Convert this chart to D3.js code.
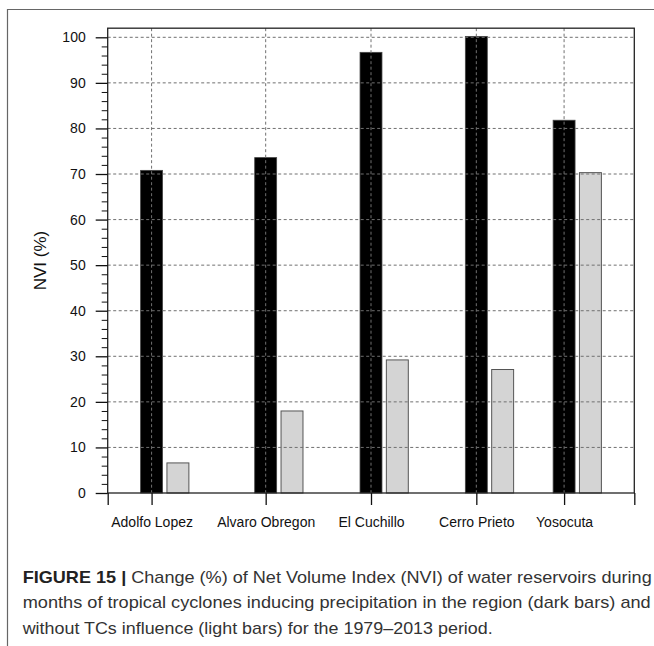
<!DOCTYPE html>
<html>
<head>
<meta charset="utf-8">
<script src="https://cdn.jsdelivr.net/npm/d3@7"></script>
<style>
  body { margin: 0; background: #fff; }
  svg { display: block; font-family: "Liberation Sans", Arial, Helvetica, sans-serif; }
</style>
</head>
<body>
<script>
// reservoirs and their x value on the original plot axis (0..6)
const reservoirs = ["Adolfo Lopez", "Alvaro Obregon", "El Cuchillo", "Cerro Prieto", "Yosocuta"];
const xValues = [0.5, 1.8, 3.0, 4.2, 5.2];
// NVI change (%) with TCs (dark) and without TCs (light)
const withTC = [70.8, 73.6, 96.7, 100.2, 81.8];
const withoutTC = [6.6, 18.0, 29.2, 27.1, 70.3];
const yTicks = [0, 10, 20, 30, 40, 50, 60, 70, 80, 90, 100];
const captionLines = [
  ["FIGURE 15 |", " Change (%) of Net Volume Index (NVI) of water reservoirs during"],
  ["", "months of tropical cyclones inducing precipitation in the region (dark bars) and"],
  ["", "without TCs influence (light bars) for the 1979\u20132013 period."]
];

const W = 654, H = 646;
const svg = d3.select("body").append("svg")
  .attr("width", W)
  .attr("height", H);

const x = d3.scaleLinear().domain([0, 6]).range([107.7, 634.3]);
const y = d3.scaleLinear().domain([0, 100]).range([493, 37.3]);
const yTop = 102;
const barW = 0.25, gap = 0.3;

// outer panel border (top + left)
svg.append("path")
  .attr("d", "M7.5,646 V9.5 H654")
  .attr("fill", "none")
  .attr("stroke", "#666")
  .attr("stroke-width", 1.2);

// bars
const bars = svg.append("g");
bars.selectAll("rect.dark")
  .data(withTC)
  .join("rect")
  .attr("class", "dark")
  .attr("x", (d, i) => x(xValues[i] - barW / 2))
  .attr("width", (d, i) => x(barW) - x(0))
  .attr("y", d => y(d))
  .attr("height", d => y(0) - y(d))
  .attr("fill", "#000")
  .attr("stroke", "#444")
  .attr("stroke-width", 0.8);

bars.selectAll("rect.light")
  .data(withoutTC)
  .join("rect")
  .attr("class", "light")
  .attr("x", (d, i) => x(xValues[i] + gap - barW / 2))
  .attr("width", (d, i) => x(barW) - x(0))
  .attr("y", d => y(d))
  .attr("height", d => y(0) - y(d))
  .attr("fill", "#d4d4d4")
  .attr("stroke", "#555")
  .attr("stroke-width", 1);

// dashed grid on top of bars
const grid = svg.append("g")
  .attr("stroke", "#707070")
  .attr("stroke-width", 1)
  .attr("stroke-dasharray", "3,2.5");
grid.selectAll("line.h")
  .data(yTicks.filter(d => d > 0))
  .join("line")
  .attr("class", "h")
  .attr("x1", x(0)).attr("x2", x(6))
  .attr("y1", d => y(d)).attr("y2", d => y(d));
grid.selectAll("line.v")
  .data(xValues)
  .join("line")
  .attr("class", "v")
  .attr("x1", d => x(d)).attr("x2", d => x(d))
  .attr("y1", y(yTop)).attr("y2", y(0));

// plot frame
svg.append("rect")
  .attr("x", x(0))
  .attr("y", y(yTop))
  .attr("width", x(6) - x(0))
  .attr("height", y(0) - y(yTop))
  .attr("fill", "none")
  .attr("stroke", "#222")
  .attr("stroke-width", 1.3);

// y axis: major and minor ticks
const yAxis = svg.append("g")
  .attr("transform", `translate(${x(0)},0)`)
  .call(d3.axisLeft(y).tickValues(yTicks).tickSize(12).tickPadding(10));
const yMinor = svg.append("g")
  .attr("transform", `translate(${x(0)},0)`)
  .call(d3.axisLeft(y).tickValues(d3.range(0, 101, 2).filter(d => d % 10 !== 0)).tickSize(6).tickFormat(""));

// x axis
const xTickVals = [0].concat(xValues, [6]);
const xAxis = svg.append("g")
  .attr("transform", `translate(0,${y(0)})`)
  .call(d3.axisBottom(x)
    .tickValues(xTickVals)
    .tickSize(12)
    .tickPadding(12)
    .tickFormat(d => {
      const i = xValues.indexOf(d);
      return i >= 0 ? reservoirs[i] : "";
    }));

[yAxis, yMinor, xAxis].forEach(g => {
  g.select(".domain").remove();
  g.selectAll(".tick line").attr("stroke", "#111").attr("stroke-width", 1.3);
  g.selectAll(".tick text")
    .attr("fill", "#111")
    .style("font-size", "14px")
    .style("font-family", "'Liberation Sans', Arial, sans-serif");
});
yMinor.selectAll(".tick line").attr("stroke-width", 1);

// y label
svg.append("text")
  .attr("transform", `translate(46,${(y(0) + y(yTop)) / 2}) rotate(-90)`)
  .attr("text-anchor", "middle")
  .style("font-size", "17px")
  .attr("fill", "#111")
  .text("NVI (%)");

// caption
const capWidths = [629, 628, 470];
const cap = svg.append("g");
captionLines.forEach((ln, i) => {
  const t = cap.append("text")
    .attr("x", 22.7)
    .attr("y", 582.5 + i * 25.5)
    .style("font-size", "17px")
    .attr("fill", "#333")
    .attr("textLength", capWidths[i])
    .attr("lengthAdjust", "spacingAndGlyphs");
  if (ln[0]) t.append("tspan").attr("font-weight", "bold").attr("fill", "#222").text(ln[0]);
  t.append("tspan").text(ln[1]);
});
</script>
</body>
</html>
